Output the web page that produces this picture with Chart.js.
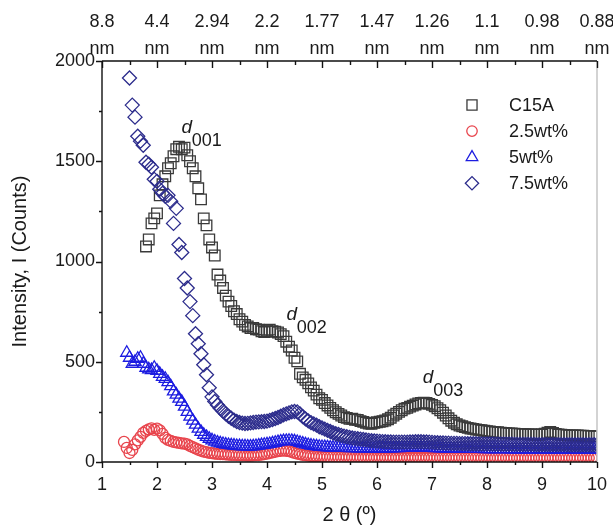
<!DOCTYPE html>
<html>
<head>
<meta charset="utf-8">
<title>XRD patterns</title>
<script src="https://cdn.jsdelivr.net/npm/chart.js@4.4.0/dist/chart.umd.min.js"></script>
<style>
  body { margin: 0; background: #fff; }
  canvas { display: block; }
</style>
</head>
<body>
<canvas id="xrdChart" width="613" height="528"></canvas>
<script>
// ---------------- data ---------------- //

var theta = [ // 2 theta (deg)
  1.40,1.45,1.50,1.55,1.60,1.65,1.70,1.75,1.80,1.85,1.90,1.95,2.00,2.05,2.10,2.15,2.20,2.25,2.30,2.35,
  2.40,2.45,2.50,2.55,2.60,2.65,2.70,2.75,2.80,2.85,2.90,2.95,3.00,3.05,3.10,3.15,3.20,3.25,3.30,3.35,
  3.40,3.45,3.50,3.55,3.60,3.65,3.70,3.75,3.80,3.85,3.90,3.95,4.00,4.05,4.10,4.15,4.20,4.25,4.30,4.35,
  4.40,4.45,4.50,4.55,4.60,4.65,4.70,4.75,4.80,4.85,4.90,4.95,5.00,5.05,5.10,5.15,5.20,5.25,5.30,5.35,
  5.40,5.45,5.50,5.55,5.60,5.65,5.70,5.75,5.80,5.85,5.90,5.95,6.00,6.05,6.10,6.15,6.20,6.25,6.30,6.35,
  6.40,6.45,6.50,6.55,6.60,6.65,6.70,6.75,6.80,6.85,6.90,6.95,7.00,7.05,7.10,7.15,7.20,7.25,7.30,7.35,
  7.40,7.45,7.50,7.55,7.60,7.65,7.70,7.75,7.80,7.85,7.90,7.95,8.00,8.05,8.10,8.15,8.20,8.25,8.30,8.35,
  8.40,8.45,8.50,8.55,8.60,8.65,8.70,8.75,8.80,8.85,8.90,8.95,9.00,9.05,9.10,9.15,9.20,9.25,9.30,9.35,
  9.40,9.45,9.50,9.55,9.60,9.65,9.70,9.75,9.80,9.85,9.90,9.95,10.00
];

var c15a = [
  null,null,null,null,null,null,null,null,1075,1110,1190,1215,1240,1330,1385,1425,1465,1490,1525,1560,
  1572,1560,1568,1530,1500,1465,1425,1365,1310,1215,1180,1110,1070,1030,935,905,868,830,800,778,
  752,738,712,700,684,676,668,668,662,660,652,648,656,660,652,650,646,638,628,600,
  575,556,520,502,440,422,410,392,372,356,336,318,310,294,282,270,258,248,240,232,
  224,220,215,216,211,210,204,200,196,192,191,195,198,201,203,207,213,221,232,241,
  250,258,266,270,276,281,287,292,294,296,294,290,285,278,268,258,246,232,218,206,
  196,188,182,178,174,170,167,165,162,160,158,156,154,152,150,149,148,146,145,144,
  143,142,141,140,140,139,139,138,137,137,136,136,137,141,146,150,145,140,137,136,
  135,134,133,133,132,132,131,131,130,130,129,129,128
];

var wt25 = [
  100,70,45,60,88,108,125,145,155,163,168,160,166,158,140,120,110,105,100,98,
  95,93,92,88,80,74,68,61,56,52,49,46,44,42,41,40,39,38,37,36,
  36,35,34,33,33,32,32,33,34,35,37,39,42,45,48,51,54,56,57,56,
  54,50,46,42,39,36,34,32,30,29,28,27,27,26,26,25,25,25,24,24,
  24,24,24,23,23,23,23,23,23,23,23,22,22,22,22,22,22,22,22,22,
  22,22,22,22,22,22,22,22,22,22,22,22,21,21,21,21,21,21,21,21,
  21,21,21,21,21,21,21,21,21,21,20,20,20,20,20,20,20,20,20,20,
  20,20,20,20,20,20,20,20,20,20,20,20,20,20,20,20,20,20,20,20,
  20,20,20,20,20,20,20,20,20,20,20,20,20
];

var wt5 = [
  null,545,520,490,500,515,520,490,470,462,458,470,455,440,425,415,398,378,352,336,
  316,300,276,250,226,206,186,166,150,136,125,116,108,102,97,93,90,87,85,83,
  82,80,79,78,78,77,77,78,80,82,84,86,88,90,93,96,99,102,104,105,
  106,105,103,100,96,92,88,85,82,80,78,76,75,74,73,72,72,71,71,70,
  70,70,69,69,69,68,68,68,68,67,67,67,67,67,67,67,68,68,68,69,
  69,70,70,71,71,72,72,72,72,71,71,70,70,69,69,68,68,67,67,67,
  66,66,66,66,65,65,65,65,65,65,65,64,64,64,64,64,64,64,64,64,
  64,63,63,63,63,63,63,63,63,63,63,63,63,63,63,63,62,62,62,62,
  62,62,62,62,62,62,62,62,62,62,62,62,62
];

var wt75 = [
  null,null,1915,1780,1720,1625,1600,1580,1495,1485,1470,1410,1400,1360,1340,1325,1330,1300,1190,1265,
  1085,1045,915,868,800,730,640,590,540,485,435,370,325,302,284,268,254,240,228,218,
  209,202,197,194,192,193,195,197,199,200,201,202,204,208,212,217,222,228,235,240,
  245,250,252,250,240,226,215,205,196,190,184,176,170,164,158,152,146,141,137,133,
  129,126,123,120,118,116,114,112,110,108,106,105,104,103,102,101,100,100,99,99,
  99,99,99,99,100,100,101,101,101,100,100,99,98,97,96,95,95,94,94,93,
  93,93,92,92,92,91,91,91,91,90,90,90,90,90,90,89,89,89,89,89,
  89,89,88,88,88,88,88,88,88,88,87,87,87,87,87,87,87,87,87,87,
  87,86,86,86,86,86,86,86,86,86,86,86,86
];

var seriesNames = ['C15A', '2.5wt%', '5wt%', '7.5wt%'];
var xTicks = [1, 2, 3, 4, 5, 6, 7, 8, 9, 10];
var yTicks = [0, 500, 1000, 1500, 2000];
var dSpacing = ['8.8', '4.4', '2.94', '2.2', '1.77', '1.47', '1.26', '1.1', '0.98', '0.88']; // nm, top axis
var peakNames = ['001', '002', '003'];

var FONT = "'Liberation Sans', Arial, Helvetica, sans-serif";
var INK = '#1a1a1a';

Chart.defaults.font.family = FONT;
Chart.defaults.color = INK;

function toPoints(values) {
  var pts = [];
  for (var i = 0; i < theta.length; i++) {
    if (values[i] !== null) pts.push({ x: theta[i], y: values[i] });
  }
  return pts;
}

function makeSeries(name, values, style, radius, color, order) {
  return {
    label: name,
    data: toPoints(values),
    showLine: false,
    pointStyle: style,
    pointRadius: radius,
    pointHoverRadius: radius,
    pointBorderWidth: 1.3,
    borderColor: color,
    backgroundColor: 'rgba(0,0,0,0)',
    order: order
  };
}

function fixedTicks(list) {
  return function (s) { s.ticks = list.map(function (v) { return { value: v }; }); };
}

// ---------------- plugins ---------------- //

// axis frame with major/minor tick marks (bottom + left outward, top inward)
var framePlugin = {
  id: 'frame',
  afterDraw: function (chart) {
    var ctx = chart.ctx, a = chart.chartArea;
    var xs = chart.scales.x, ys = chart.scales.y;
    ctx.save();
    ctx.strokeStyle = '#c4c4c4';
    ctx.lineWidth = 1.5;
    ctx.beginPath();
    ctx.moveTo(a.right, a.top);
    ctx.lineTo(a.right, a.bottom);
    ctx.stroke();

    ctx.strokeStyle = '#111';
    ctx.lineWidth = 1.4;
    ctx.beginPath();
    ctx.moveTo(a.left, a.top);
    ctx.lineTo(a.left, a.bottom);
    ctx.lineTo(a.right, a.bottom);
    ctx.moveTo(a.left, a.top);
    ctx.lineTo(a.right, a.top);
    for (var v = 1; v <= 10; v += 0.5) {
      var px = Math.round(xs.getPixelForValue(v)) + 0.5;
      var major = v % 1 === 0;
      ctx.moveTo(px, a.bottom);
      ctx.lineTo(px, a.bottom + (major ? 6 : 3));
      ctx.moveTo(px, a.top);
      ctx.lineTo(px, a.top + (major ? 7 : 4));
    }
    for (var w = 0; w <= 2000; w += 250) {
      var py = Math.round(ys.getPixelForValue(w)) + 0.5;
      ctx.moveTo(a.left, py);
      ctx.lineTo(a.left - (w % 500 === 0 ? 6 : 3), py);
    }
    ctx.stroke();
    ctx.restore();
  }
};

// legend box in the upper right corner of the plot
var legendPlugin = {
  id: 'cornerLegend',
  afterDraw: function (chart) {
    var ctx = chart.ctx;
    var sets = chart.data.datasets;
    ctx.save();
    ctx.font = '18px ' + FONT;
    ctx.textBaseline = 'middle';
    ctx.textAlign = 'left';
    for (var i = 0; i < sets.length; i++) {
      var y = 105 + i * 26.1;
      ctx.strokeStyle = sets[i].borderColor;
      ctx.fillStyle = 'rgba(0,0,0,0)';
      ctx.lineWidth = 1.3;
      Chart.helpers.drawPoint(ctx, {
        pointStyle: sets[i].pointStyle,
        radius: sets[i].pointRadius * 0.95,
        rotation: 0,
        borderWidth: 1.3
      }, 472, y);
      ctx.fillStyle = INK;
      ctx.fillText(sets[i].label, 509, y + 1);
    }
    ctx.restore();
  }
};

// d-spacing reflection labels (d001, d002, d003)
var peakPlugin = {
  id: 'peaks',
  afterDraw: function (chart) {
    var ctx = chart.ctx;
    var xs = chart.scales.x, ys = chart.scales.y;
    var spots = [[2.54, 1668], [4.45, 735], [6.93, 418]];
    ctx.save();
    ctx.fillStyle = INK;
    ctx.textBaseline = 'middle';
    for (var i = 0; i < peakNames.length; i++) {
      var px = xs.getPixelForValue(spots[i][0]);
      var py = ys.getPixelForValue(spots[i][1]);
      ctx.textAlign = 'center';
      ctx.font = 'italic 19px ' + FONT;
      ctx.fillText('d', px, py);
      ctx.textAlign = 'left';
      ctx.font = '18px ' + FONT;
      ctx.fillText(peakNames[i], px + 5, py + 13);
    }
    ctx.restore();
  }
};

// ---------------- chart ---------------- //

var chart = new Chart(document.getElementById('xrdChart').getContext('2d'), {
  type: 'scatter',
  data: {
    datasets: [
      makeSeries(seriesNames[0], c15a, 'rect', 7.5, '#3a3a3a', 4),
      makeSeries(seriesNames[1], wt25, 'circle', 5.5, '#e8444c', 3),
      makeSeries(seriesNames[2], wt5, 'triangle', 7, '#1c1ce0', 2),
      makeSeries(seriesNames[3], wt75, 'rectRot', 7, '#2c2c8c', 1)
    ]
  },
  options: {
    responsive: false,
    animation: false,
    devicePixelRatio: 1,
    layout: { padding: { left: 0, right: 16, top: 0, bottom: 0 } },
    plugins: {
      legend: { display: false },
      tooltip: { enabled: false }
    },
    scales: {
      x: {
        type: 'linear',
        position: 'bottom',
        min: 1,
        max: 10,
        afterBuildTicks: fixedTicks(xTicks),
        ticks: { font: { size: 18 }, color: INK, padding: 12, maxRotation: 0 },
        grid: { display: false, drawTicks: false },
        border: { display: false },
        title: { display: true, text: '2 θ (º)', font: { size: 20 }, color: INK, padding: { top: 0, bottom: 1 } },
        afterFit: function (s) { s.height = 66; s.paddingLeft = 0; s.paddingRight = 0; }
      },
      x2: {
        type: 'linear',
        position: 'top',
        min: 1,
        max: 10,
        afterBuildTicks: fixedTicks(xTicks),
        ticks: {
          font: { size: 18, lineHeight: 1.48 },
          color: INK,
          padding: -1,
          maxRotation: 0,
          callback: function (v) { return [dSpacing[Math.round(v) - 1], 'nm']; }
        },
        grid: { display: false, drawTicks: false },
        border: { display: false },
        afterFit: function (s) { s.height = 61; s.paddingLeft = 0; s.paddingRight = 0; }
      },
      y: {
        min: 0,
        max: 2000,
        afterBuildTicks: fixedTicks(yTicks),
        ticks: {
          font: { size: 18 },
          color: INK,
          padding: 7,
          callback: function (v) { return String(v); }
        },
        grid: { display: false, drawTicks: false },
        border: { display: false },
        title: { display: true, text: 'Intensity, I (Counts)', font: { size: 20 }, color: INK, padding: { top: 8, bottom: 0 } },
        afterFit: function (s) { s.width = 102; }
      }
    }
  },
  plugins: [framePlugin, legendPlugin, peakPlugin]
});
</script>
</body>
</html>
